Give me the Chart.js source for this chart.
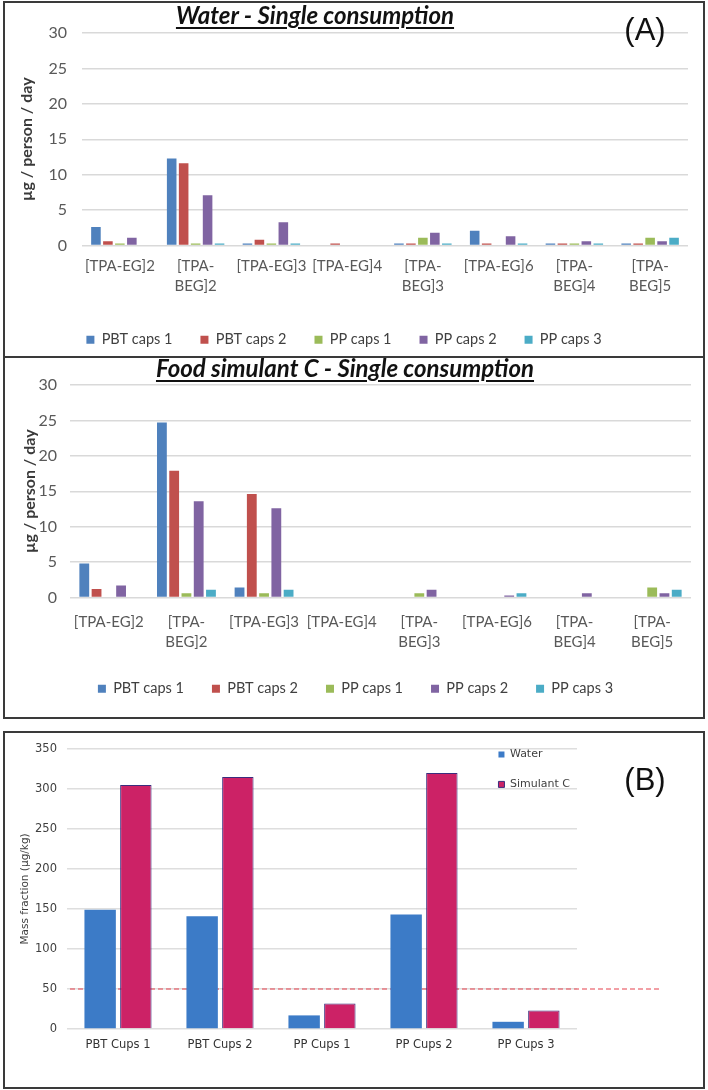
<!DOCTYPE html>
<html>
<head>
<meta charset="utf-8">
<script src="https://cdn.jsdelivr.net/npm/chart.js@4.4.0/dist/chart.umd.min.js"></script>
<style>
  body { margin: 0; background: #fff; }
  #page { position: relative; width: 708px; height: 1090px; overflow: hidden; }
  canvas, .box, .line, .ttl, .tag { position: absolute; }
  .box { border: 2px solid #3a3a3a; pointer-events: none; }
  .line { border-top: 2px solid #3a3a3a; }
  .ttl {
    font: italic bold 24px Lato, "Open Sans", sans-serif;
    line-height: 26px; color: #111; white-space: nowrap;
    text-decoration: underline; text-decoration-thickness: 2px; text-underline-offset: 3px;
    transform: translateX(-50%);
  }
  .tag { font: 31px "Liberation Sans", Arial, sans-serif; line-height: 32px; color: #111; transform: translateX(-50%); }
</style>
</head>
<body>
<div id="page">
  <canvas id="waterChart" width="708" height="357" style="left:0;top:0"></canvas>
  <canvas id="simulantChart" width="708" height="361" style="left:0;top:357px"></canvas>
  <canvas id="massChart" width="708" height="356" style="left:0;top:732px"></canvas>

  <div class="box" style="left:3px;top:1px;width:698px;height:714px"></div>
  <div class="line" style="left:4px;top:356px;width:700px"></div>
  <div class="box" style="left:3px;top:731px;width:698px;height:354px"></div>

  <div class="ttl" style="left:315px;top:2px">Water - Single consumption</div>
  <div class="ttl" style="left:345px;top:355px">Food simulant C - Single consumption</div>
  <div class="tag" style="left:645px;top:14px">(A)</div>
  <div class="tag" style="left:645px;top:764px">(B)</div>
</div>
<script>
// ---- panel A : daily exposure (µg / person / day) ----
const compounds = ['[TPA-EG]2', ['[TPA-', 'BEG]2'], '[TPA-EG]3', '[TPA-EG]4',
                   ['[TPA-', 'BEG]3'], '[TPA-EG]6', ['[TPA-', 'BEG]4'], ['[TPA-', 'BEG]5']];
const capNames = ['PBT caps 1', 'PBT caps 2', 'PP caps 1', 'PP caps 2', 'PP caps 3'];
const capColors = ['#4F81BD', '#C0504D', '#9BBB59', '#8064A2', '#4BACC6'];

const waterPbtCaps1 = [2.6, 12.3, 0.3, 0, 0.3, 2.1, 0.3, 0.3];
const waterPbtCaps2 = [0.6, 11.6, 0.8, 0.3, 0.3, 0.3, 0.3, 0.3];
const waterPpCaps1  = [0.3, 0.3, 0.3, 0, 1.1, 0, 0.3, 1.1];
const waterPpCaps2  = [1.1, 7.1, 3.3, 0, 1.8, 1.3, 0.6, 0.6];
const waterPpCaps3  = [0, 0.3, 0.3, 0, 0.3, 0.3, 0.3, 1.1];

const simPbtCaps1 = [4.8, 24.7, 1.4, 0, 0, 0, 0, 0];
const simPbtCaps2 = [1.2, 17.9, 14.6, 0, 0, 0, 0, 0];
const simPpCaps1  = [0, 0.6, 0.6, 0, 0.6, 0, 0, 1.4];
const simPpCaps2  = [1.7, 13.6, 12.6, 0, 1.1, 0.3, 0.6, 0.6];
const simPpCaps3  = [0, 1.1, 1.1, 0, 0, 0.6, 0, 1.1];

const doseMax = 30;
const doseStep = 5;

// ---- panel B : mass fraction (µg/kg) ----
const cupNames = ['PBT Cups 1', 'PBT Cups 2', 'PP Cups 1', 'PP Cups 2', 'PP Cups 3'];
const massWater = [149, 141, 17, 143, 9];
const massSimulantC = [305, 315, 32, 320, 23];
const massLimit = 50;
const massMax = 350;
const massStep = 50;

const calibriLike = 'Lato, "Open Sans", sans-serif';
const verdana = '"DejaVu Sans", Verdana, sans-serif';

function capDatasets(series) {
  return series.map((vals, i) => ({
    label: capNames[i],
    data: vals,
    backgroundColor: capColors[i],
    borderWidth: 0,
    categoryPercentage: 0.79,
    barPercentage: 0.8
  }));
}

function exposureChart(id, series, lay) {
  return new Chart(document.getElementById(id), {
    type: 'bar',
    data: { labels: compounds, datasets: capDatasets(series) },
    options: {
      responsive: false,
      animation: false,
      layout: { padding: lay.padding },
      plugins: {
        tooltip: { enabled: false },
        legend: {
          position: 'bottom',
          labels: {
            boxWidth: 8, boxHeight: 8, padding: 28,
            color: '#404040',
            font: { family: calibriLike, size: 14.5 }
          }
        }
      },
      scales: {
        x: {
          grid: { display: false, drawTicks: false },
          border: { display: false },
          ticks: { color: '#595959', padding: lay.xPad, maxRotation: 0, autoSkip: false,
                   font: { family: calibriLike, size: 15, lineHeight: 1.3 } },
          afterFit: s => { s.height = lay.xHeight; }
        },
        y: {
          min: 0, max: doseMax,
          grid: { color: '#d9d9d9', lineWidth: 1.4, drawTicks: false },
          border: { display: false },
          ticks: { stepSize: doseStep, color: '#595959', padding: lay.yPad,
                   font: { family: calibriLike, size: 16 } },
          title: { display: true, text: 'µg / person / day', color: '#3a3a3a',
                   padding: { top: lay.titlePad, bottom: 0 },
                   font: { family: calibriLike, size: 16, weight: 'bold' } },
          afterFit: s => { s.width = lay.yWidth; }
        }
      }
    }
  });
}

exposureChart('waterChart',
  [waterPbtCaps1, waterPbtCaps2, waterPpCaps1, waterPpCaps2, waterPpCaps3],
  { padding: { top: 33, left: 0, right: 20, bottom: 0 }, xHeight: 59, xPad: 11,
    yWidth: 82, yPad: 15, titlePad: 17 });

exposureChart('simulantChart',
  [simPbtCaps1, simPbtCaps2, simPpCaps1, simPpCaps2, simPpCaps3],
  { padding: { top: 28, left: 20, right: 17, bottom: 12 }, xHeight: 56, xPad: 15,
    yWidth: 50, yPad: 13, titlePad: 0 });

// dashed limit line, drawn behind the bars
const limitLinePlugin = {
  id: 'limitLine',
  beforeDatasetsDraw(chart) {
    const ctx = chart.ctx, a = chart.chartArea;
    const y = chart.scales.y.getPixelForValue(massLimit);
    ctx.save();
    ctx.strokeStyle = '#e5404c';
    ctx.lineWidth = 1.2;
    ctx.setLineDash([5, 3]);
    ctx.beginPath();
    ctx.moveTo(a.left + 3, y);
    ctx.lineTo(a.right + 84, y);
    ctx.stroke();
    ctx.restore();
  }
};

// move the chartArea legend to the upper right of the plot
const floatLegendPlugin = {
  id: 'floatLegend',
  beforeDraw(chart) {
    const lg = chart.legend, a = chart.chartArea;
    const pad = lg.options.labels.padding;
    lg.left = a.left + a.width * 0.846 - pad;
    lg.top = a.top - pad;
    lg.bottom = lg.top + a.height;
  }
};

new Chart(document.getElementById('massChart'), {
  type: 'bar',
  data: {
    labels: cupNames,
    datasets: [
      { label: 'Water', data: massWater, backgroundColor: '#3C7BC7', borderWidth: 0,
        categoryPercentage: 0.7, barPercentage: 0.88 },
      { label: 'Simulant C', data: massSimulantC, backgroundColor: '#CC2266',
        borderColor: '#3b2d7d', borderWidth: 1,
        categoryPercentage: 0.7, barPercentage: 0.88 }
    ]
  },
  plugins: [limitLinePlugin, floatLegendPlugin],
  options: {
    responsive: false,
    animation: false,
    layout: { padding: { top: 16, left: 0, right: 131, bottom: 0 } },
    plugins: {
      tooltip: { enabled: false },
      legend: {
        position: 'chartArea',
        align: 'start',
        labels: { boxWidth: 6, boxHeight: 6, padding: 19, color: '#404040',
                  font: { family: verdana, size: 11 } }
      }
    },
    scales: {
      x: {
        grid: { display: false, drawTicks: false },
        border: { display: false },
        ticks: { color: '#333', padding: 9, font: { family: verdana, size: 11.5 } },
        afterFit: s => { s.height = 59; }
      },
      y: {
        min: 0, max: massMax,
        grid: { color: '#dedede', lineWidth: 1.4, drawTicks: false },
        border: { display: false },
        ticks: { stepSize: massStep, color: '#404040', padding: 10,
                 font: { family: verdana, size: 11.5 } },
        title: { display: true, text: 'Mass fraction (µg/kg)', color: '#404040',
                 padding: { top: 19, bottom: 0 }, font: { family: verdana, size: 10.5 } },
        afterFit: s => { s.width = 67; }
      }
    }
  }
});
</script>
</body>
</html>
